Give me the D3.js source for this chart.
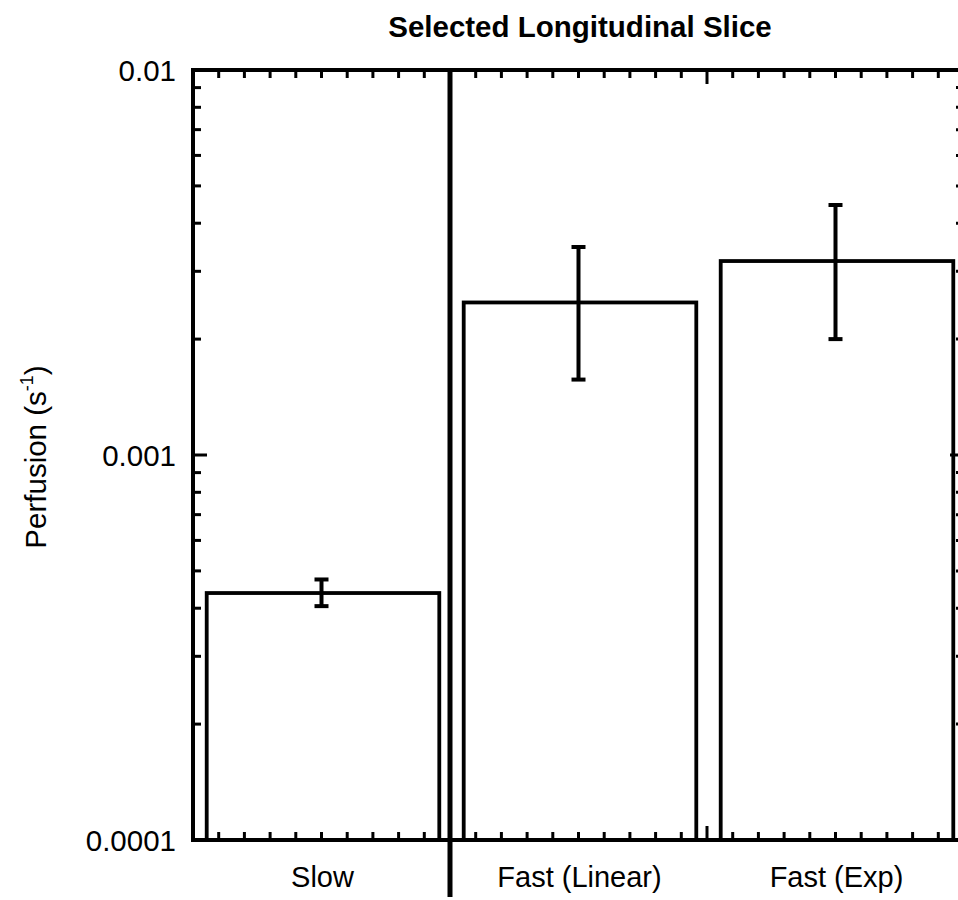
<!DOCTYPE html>
<html>
<head>
<meta charset="utf-8">
<script src="https://cdn.jsdelivr.net/npm/d3@7"></script>
<style>
  html, body { margin: 0; padding: 0; background: #fff; }
  svg { display: block; font-family: "Liberation Sans", Arial, sans-serif; }
</style>
</head>
<body>
<svg id="chart" width="958" height="900"></svg>
<script>
// ---- data ----
const categories = ["Slow", "Fast (Linear)", "Fast (Exp)"];
const values = [0.000438, 0.00249, 0.00319];
const errLow = [0.000405, 0.00157, 0.00200];
const errHigh = [0.000475, 0.00347, 0.00446];
const yTickValues = [0.0001, 0.001, 0.01];
const yTickLabels = ["0.0001", "0.001", "0.01"];
const chartTitle = "Selected Longitudinal Slice";

// ---- layout ----
const svg = d3.select("#chart");
const pLeft = 193, pRight = 964, pTop = 70, pBottom = 840;

const x = d3.scaleLinear().domain([0, 3]).range([pLeft, pRight]);
const y = d3.scaleLog().domain([0.0001, 0.01]).range([pBottom, pTop]);

const barW = x(0.905) - x(0);

// bars
svg.append("g").selectAll("rect").data(values).join("rect")
  .attr("x", (d, i) => x(i + 0.5) - barW / 2 + 1.5)
  .attr("y", d => y(d))
  .attr("width", barW)
  .attr("height", d => pBottom - y(d))
  .attr("fill", "#fff")
  .attr("stroke", "#000")
  .attr("stroke-width", 3.8);

// axes frame ticks
const g = svg.append("g").attr("stroke", "#000");
const xMinor = d3.range(0, 3.0001, 0.1);
xMinor.forEach(v => {
  const major = Math.abs(v - Math.round(v)) < 1e-6;
  const len = major ? 14 : 8;
  const px = x(v);
  g.append("line").attr("x1", px).attr("x2", px).attr("y1", pTop).attr("y2", pTop + len).attr("stroke-width", 3);
  g.append("line").attr("x1", px).attr("x2", px).attr("y1", pBottom).attr("y2", pBottom - len).attr("stroke-width", 3);
});

const yTicksAll = [];
[0.0001, 0.001].forEach(dec => { for (let k = 1; k <= 9; k++) yTicksAll.push(dec * k); });
yTicksAll.push(0.01);
yTicksAll.forEach(v => {
  const lg = Math.log10(v);
  const major = Math.abs(lg - Math.round(lg)) < 1e-6;
  const len = major ? 14 : 8;
  const py = y(v);
  g.append("line").attr("x1", pLeft).attr("x2", pLeft + len).attr("y1", py).attr("y2", py).attr("stroke-width", 3);
  g.append("line").attr("x1", pRight).attr("x2", pRight - len).attr("y1", py).attr("y2", py).attr("stroke-width", 3);
});

// frame
g.append("rect").attr("x", pLeft).attr("y", pTop).attr("width", pRight - pLeft).attr("height", pBottom - pTop)
  .attr("fill", "none").attr("stroke-width", 4);

// separator line
g.append("line").attr("x1", x(1)).attr("x2", x(1)).attr("y1", pTop).attr("y2", 897).attr("stroke-width", 5);

// error bars
const eb = svg.append("g").attr("stroke", "#000").attr("stroke-width", 4);
values.forEach((v, i) => {
  const cx = x(i + 0.5);
  eb.append("line").attr("x1", cx).attr("x2", cx).attr("y1", y(errHigh[i])).attr("y2", y(errLow[i]));
  eb.append("line").attr("x1", cx - 7).attr("x2", cx + 7).attr("y1", y(errHigh[i])).attr("y2", y(errHigh[i]));
  eb.append("line").attr("x1", cx - 7).attr("x2", cx + 7).attr("y1", y(errLow[i])).attr("y2", y(errLow[i]));
});

// y tick labels
svg.append("g").selectAll("text").data(yTickValues).join("text")
  .attr("x", 176).attr("y", d => y(d)).attr("dy", "0.36em")
  .attr("text-anchor", "end").attr("font-size", 29.5)
  .text((d, i) => yTickLabels[i]);

// x labels
svg.append("g").selectAll("text").data(categories).join("text")
  .attr("x", (d, i) => x(i + 0.5) + 1).attr("y", 887)
  .attr("text-anchor", "middle").attr("font-size", 29)
  .text(d => d);

// title
svg.append("text").attr("x", 580).attr("y", 37)
  .attr("text-anchor", "middle").attr("font-size", 29.5).attr("font-weight", "bold")
  .text(chartTitle);

// y label
const yl = svg.append("text")
  .attr("transform", `translate(46, 457) rotate(-90)`)
  .attr("text-anchor", "middle").attr("font-size", 29.5);
yl.append("tspan").text("Perfusion (s");
yl.append("tspan").attr("font-size", 18).attr("dy", -13).text("-1");
yl.append("tspan").attr("dy", 13).text(")");
</script>
</body>
</html>
